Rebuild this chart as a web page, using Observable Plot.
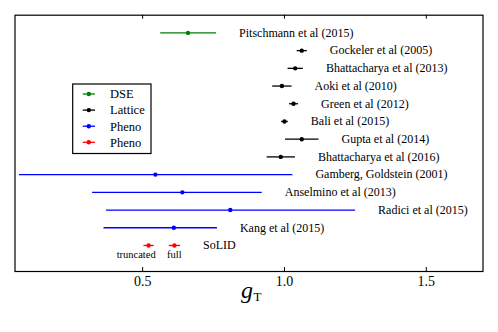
<!DOCTYPE html>
<html>
<head>
<meta charset="utf-8">
<script src="https://cdn.jsdelivr.net/npm/d3@7"></script>
<script src="https://cdn.jsdelivr.net/npm/@observablehq/plot@0.6"></script>
<style>
  html, body { margin: 0; padding: 0; background: #fff; }
  #chart { position: relative; width: 498px; height: 332px; }
  #chart svg, #chart svg text { font-family: "Liberation Serif", serif !important; }
</style>
</head>
<body>
<div id="chart"></div>
<script>
// ---- data ----
const labels = ["Pitschmann et al (2015)", "Gockeler et al (2005)", "Bhattacharya et al (2013)",
  "Aoki et al (2010)", "Green et al (2012)", "Bali et al (2015)", "Gupta et al (2014)",
  "Bhattacharya et al (2016)", "Gamberg, Goldstein (2001)", "Anselmino et al (2013)",
  "Radici et al (2015)", "Kang et al (2015)", "SoLID", "SoLID"];
const groups = ["DSE", "Lattice", "Lattice", "Lattice", "Lattice", "Lattice", "Lattice",
  "Lattice", "Pheno", "Pheno", "Pheno", "Pheno", "SoLID", "SoLID"];
const rowIndex = [13, 12, 11, 10, 9, 8, 7, 6, 5, 4, 3, 2, 1, 1];
const centers = [0.66, 1.061, 1.038, 0.991, 1.032, 1.0, 1.061, 0.987, 0.545, 0.64, 0.809, 0.61, 0.521, 0.612];
const lows    = [0.562, 1.043, 1.011, 0.957, 1.016, 0.988, 1.002, 0.937, 0.064, 0.322, 0.371, 0.362, 0.503, 0.592];
const highs   = [0.759, 1.079, 1.065, 1.025, 1.048, 1.012, 1.120, 1.037, 1.028, 0.920, 1.249, 0.762, 0.539, 0.632];
const subLabels = ["", "", "", "", "", "", "", "", "", "", "", "", "truncated", "full"];
const showLabel = [true, true, true, true, true, true, true, true, true, true, true, true, false, true];
const xTicks = [0.5, 1.0, 1.5];
const legendLabels = ["DSE", "Lattice", "Pheno", "Pheno"];
const legendGroups = ["DSE", "Lattice", "Pheno", "SoLID"];
const groupNames = ["DSE", "Lattice", "Pheno", "SoLID"];
const groupColors = ["#008000", "#000000", "#0000ff", "#ff0000"];

const rows = labels.map((label, i) => ({
  label, group: groups[i], row: rowIndex[i], v: centers[i], lo: lows[i], hi: highs[i],
  sub: subLabels[i], show: showLabel[i]
}));

const W = 498, H = 332;
const mL = 14.5, mR = 15.5, mT = 14.7, mB = 61;
const frameH = H - mT - mB;
const font = "Liberation Serif";

const svg = Plot.plot({
  width: W, height: H,
  marginLeft: mL, marginRight: mR, marginTop: mT, marginBottom: mB,
  style: { fontFamily: font, background: "#fff", color: "#000" },
  x: { domain: [0.05, 1.7] },
  y: { domain: [-0.47, 14], axis: null },
  color: { domain: groupNames, range: groupColors },
  marks: [
    Plot.axisX({ ticks: xTicks, tickSize: 0, tickPadding: 5, fontSize: 14,
      tickFormat: d3.format(".1f"), label: null }),
    Plot.tickX(xTicks, { x: d => d, insetBottom: frameH - 4, stroke: "#000" }),
    Plot.tickX(xTicks, { x: d => d, insetTop: frameH - 4, stroke: "#000" }),
    Plot.link(rows, { x1: "lo", x2: "hi", y1: "row", y2: "row", stroke: "group", strokeWidth: 1.3 }),
    Plot.dot(rows, { x: "v", y: "row", fill: "group", r: 2.2 }),
    Plot.text(rows.filter(d => d.show), { x: "hi", y: "row", text: "label", textAnchor: "start",
      dx: 23, fontSize: 12, fill: "#000" }),
    // "truncated" sits to the left of its point, "full" is centred under its point
    Plot.text(rows.filter(d => d.sub === "truncated"), { x: "hi", y: "row", text: "sub", textAnchor: "end",
      dx: 2, dy: 9.5, fontSize: 10.5, fill: "#000" }),
    Plot.text(rows.filter(d => d.sub === "full"), { x: "v", y: "row", text: "sub",
      dy: 9.5, fontSize: 10.5, fill: "#000" }),
    Plot.text(["g"], { frameAnchor: "bottom", text: d => d, dx: 4, dy: 26, textAnchor: "end",
      fontSize: 24, fontStyle: "italic", fill: "#000" }),
    Plot.text(["T"], { frameAnchor: "bottom", text: d => d, dx: 4.5, dy: 29, textAnchor: "start",
      fontSize: 13, fill: "#000" }),
    Plot.frame({ stroke: "#000", strokeWidth: 1.2 })
  ]
});

// legend box drawn into the same svg
const color = d3.scaleOrdinal(groupNames, groupColors);
const lg = d3.select(svg).append("g").attr("font-family", font).attr("font-size", 12.5)
  .attr("text-anchor", "start");
lg.append("rect").attr("x", 72.7).attr("y", 84).attr("width", 78.3).attr("height", 69.5)
  .attr("fill", "#fff").attr("stroke", "#000").attr("stroke-width", 1.2);
legendLabels.forEach((t, i) => {
  const y = 94 + i * 16.1;
  const c = color(legendGroups[i]);
  lg.append("line").attr("x1", 82.7).attr("x2", 95).attr("y1", y).attr("y2", y)
    .attr("stroke", c).attr("stroke-width", 1.3);
  lg.append("circle").attr("cx", 88.8).attr("cy", y).attr("r", 2.2).attr("fill", c);
  lg.append("text").attr("x", 110).attr("y", y).attr("dy", "0.35em").attr("fill", "#000").text(t);
});

document.getElementById("chart").appendChild(svg);
</script>
</body>
</html>
